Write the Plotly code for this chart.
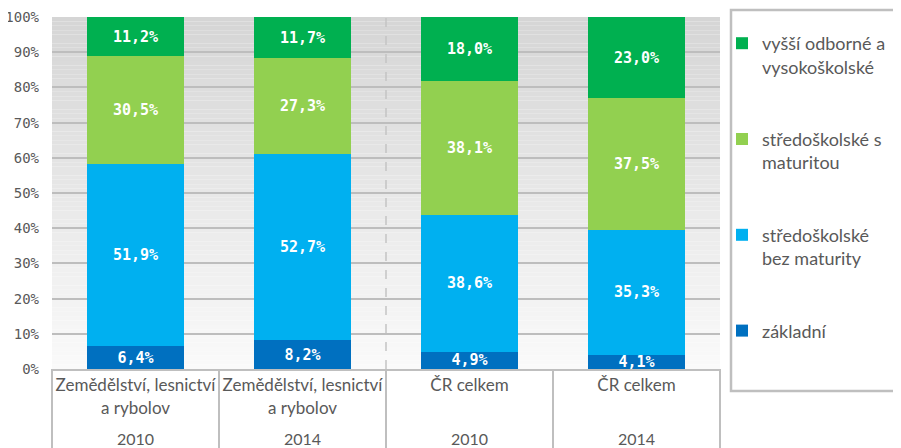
import plotly.graph_objects as go

years = ["2010", "2014", "2010", "2014"]
categories = ["Zemědělství, lesnictví<br>a rybolov", "Zemědělství, lesnictví<br>a rybolov",
              "ČR celkem", "ČR celkem"]
positions = list(range(len(categories)))

series_names = ["základní", "středoškolské<br>bez maturity",
                "středoškolské s<br>maturitou", "vyšší odborné a<br>vysokoškolské"]
zakladni = [6.4, 8.2, 4.9, 4.1]
bez_maturity = [51.9, 52.7, 38.6, 35.3]
s_maturitou = [30.5, 27.3, 38.1, 37.5]
vyssi = [11.2, 11.7, 18.0, 23.0]
series_values = [zakladni, bez_maturity, s_maturitou, vyssi]
colors = ["#0070C0", "#00B0F0", "#92D050", "#00B050"]

y_ticks = [0, 10, 20, 30, 40, 50, 60, 70, 80, 90, 100]
y_ticktext = [f"{v}%" for v in y_ticks]

# page has an 8px body margin; compensate so the figure lands at page pixels
OFF = 8
W, H = 901 - OFF, 448 - OFF
PLOT_L, PLOT_R, PLOT_T, PLOT_B = 52, 720, 17, 369  # page pixels
L, R, T, B = PLOT_L - OFF, W - (PLOT_R - OFF), PLOT_T - OFF, H - (PLOT_B - OFF)
pw = PLOT_R - PLOT_L
ph = PLOT_B - PLOT_T


def px_x(p):
    return (p - PLOT_L) / pw


def px_y(p):
    return (PLOT_B - p) / ph


fig = go.Figure()
for i, (name, vals, col) in enumerate(zip(series_names, series_values, colors)):
    fig.add_trace(go.Bar(
        x=positions, y=vals, name=name, legendgroup=name,
        legendrank=len(series_names) - i,
        marker=dict(color=col, line=dict(width=0)),
        text=[f"{v:.1f}".replace(".", ",") + "%" for v in vals],
        textposition="inside", insidetextanchor="middle", textangle=0,
        constraintext="none",
        textfont=dict(family="DejaVu Sans Mono", size=15, color="white", weight="bold"),
        hoverinfo="skip",
    ))

shapes = []
n = 80
top = (213, 213, 213)
bot = (250, 250, 250)
for i in range(n):
    t = (i + 0.5) / n
    c = tuple(round(bot[k] + (top[k] - bot[k]) * t) for k in range(3))
    shapes.append(dict(type="rect", xref="paper", yref="paper", x0=0, x1=1,
                       y0=i / n, y1=(i + 1) / n, fillcolor="rgb(%d,%d,%d)" % c,
                       line=dict(width=0), layer="below"))
# dashed separator between groups
shapes.append(dict(type="line", xref="x", yref="paper", x0=1.5, x1=1.5, y0=0, y1=1,
                   line=dict(color="#c4c4c4", width=1.5, dash="dash"), layer="between"))
# category dividers below axis
for k in range(len(positions) + 1):
    xd = k / len(positions)
    shapes.append(dict(type="line", xref="paper", yref="paper", x0=xd, x1=xd,
                       y0=0, y1=px_y(452), line=dict(color="#bfbfbf", width=2)))
# legend frame
shapes.append(dict(type="rect", xref="paper", yref="paper",
                   x0=px_x(731), x1=px_x(910), y0=px_y(391), y1=px_y(10),
                   line=dict(color="#bfbfbf", width=2.5), fillcolor="rgba(0,0,0,0)"))

annotations = [dict(x=p, y=px_y(439), xref="x", yref="paper", text=yr,
                    showarrow=False, xanchor="center", yanchor="middle",
                    font=dict(family="Lato", size=16, color="#595959"))
               for p, yr in zip(positions, years)]

fig.update_layout(
    width=W, height=H, margin=dict(l=L, r=R, t=T, b=B, autoexpand=False),
    barmode="stack", barnorm="percent", bargap=0.425,
    paper_bgcolor="white", plot_bgcolor="white",
    shapes=shapes, annotations=annotations,
    showlegend=True,
    legend=dict(x=px_x(722), xanchor="left", y=px_y(25), yanchor="top",
                traceorder="grouped", tracegroupgap=46, valign="top",
                itemwidth=30, borderwidth=0, bgcolor="rgba(0,0,0,0)",
                font=dict(family="Lato", size=18, color="#595959")),
    xaxis=dict(range=[-0.5, 3.5], tickvals=positions, ticktext=categories,
               showline=True, linecolor="#bfbfbf", linewidth=2, showgrid=False,
               zeroline=False, ticks="", automargin=False,
               tickfont=dict(family="Lato", size=17, color="#595959")),
    yaxis=dict(range=[0, 100], tickvals=y_ticks, ticktext=y_ticktext, showgrid=True,
               gridcolor="#bdbdbd", gridwidth=1.5, zeroline=False, showline=False,
               ticks="", ticklabelstandoff=12, ticklabeloverflow="allow", automargin=False,
               tickfont=dict(family="DejaVu Sans Mono", size=14, color="#595959")),
)

fig.write_html("out.html")
